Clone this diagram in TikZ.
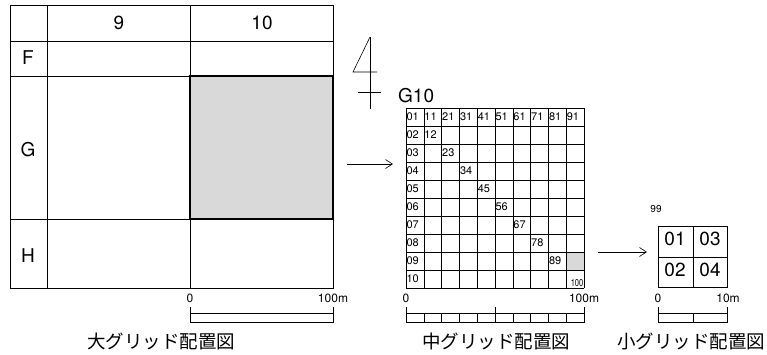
\documentclass[tikz,border=0pt]{standalone}
\usepackage{fontspec}
\setmainfont{TeX Gyre Heros}
\newfontfamily\jpfont{Noto Sans CJK JP}
\usepackage{tikz}
\usetikzlibrary{arrows.meta,positioning,calc}
\definecolor{cellgray}{gray}{0.85}
\tikzstyle{line} = [draw, line width=0.8pt]
\tikzstyle{thin} = [draw, line width=0.6pt]
\tikzstyle{big} = [font=\fontsize{19}{19}\selectfont, inner sep=0pt]
\tikzstyle{num} = [font=\fontsize{11}{11}\selectfont, inner sep=0.4pt, anchor=west]
\tikzstyle{unit} = [font=\fontsize{12}{12}\selectfont, inner sep=0pt]
\tikzstyle{title} = [font=\jpfont\fontsize{18.5}{18.5}\selectfont, inner sep=0pt]
\tikzset{>={Straight Barb[length=7pt,width=9pt]}}

\begin{document}
\begin{tikzpicture}[x=1pt,y=-1pt]
    \useasboundingbox (0,0) rectangle (767,354);

    % large grid
    \fill [cellgray] (190,76) rectangle (333,219);
    \draw [line] (10,5) rectangle (333,288);
    \foreach \x in {47,190} \draw [line] (\x,5) -- (\x,288);
    \foreach \y in {41,76,219} \draw [line] (10,\y) -- (333,\y);
    \draw [line width=1.3pt] (190,76) rectangle (333,219);
    \node [big] (col9) at (119,23) {9};
    \node [big] (col10) at (262,23) {10};
    \node [big] (rowF) at (28,58) {F};
    \node [big] (rowG) at (28,150) {G};
    \node [big] (rowH) at (28,256) {H};

    % scale of the large grid
    \draw [thin] (190,307) -- (190,323) (333,307) -- (333,323);
    \draw [thin] (190,313) -- (333,313) (190,322) -- (333,322);
    \node [unit] (l0) at (190,298) {0};
    \node [unit] (l100) at (333,298) {100m};
    \node [title] (ltitle) at (161,341) {大グリッド配置図};

    % north
    \draw [thin] (370,37) -- (370,109);
    \draw [thin] (370,37) -- (353,72) -- (377,72);
    \draw [thin] (358,92) -- (381,92);

    \coordinate (a1) at (347,164);
    \coordinate (b1) at (393,164);
    \draw [->, thin] (a1) -- (b1);

    % middle grid
    \node [big, anchor=west] (g10) at (398,96) {G10};
    \fill [cellgray] (566.2,252) rectangle (584,270);
    \foreach \i in {0,...,10} {
      \draw [thin] ({406+17.8*\i},108) -- ({406+17.8*\i},288);
      \draw [thin] (406,{108+18*\i}) -- (584,{108+18*\i});
    }
    \foreach \t [count=\c] in {01,11,21,31,41,51,61,71,81,91}
      \node [num] (top\c) at ({406+17.8*(\c-1)},116.5) {\t};
    \foreach \t [count=\r] in {02,03,04,05,06,07,08,09,10}
      \node [num] (left\r) at (406,{134.5+18*(\r-1)}) {\t};
    \foreach \t [count=\r] in {12,23,34,45,56,67,78,89}
      \node [num] (diag\r) at ({423.8+17.8*(\r-1)},{134.5+18*(\r-1)}) {\t};
    \node [font=\fontsize{10}{10}\selectfont, inner sep=0.8pt, anchor=south east, xscale=0.75] (last) at (584,288) {100};

    % scale of the middle grid
    \draw [thin] (406,307) -- (406,323) (495,307) -- (495,323) (584,307) -- (584,323);
    \foreach \i in {1,2,3,4,6,7,8,9} \draw [thin] ({406+17.8*\i},313) -- ({406+17.8*\i},323);
    \draw [thin] (406,313) -- (584,313) (406,322) -- (584,322);
    \node [unit] (m0) at (406,298) {0};
    \node [unit] (m100) at (584,298) {100m};
    \node [title] (mtitle) at (496,341) {中グリッド配置図};

    \coordinate (a2) at (598,252);
    \coordinate (b2) at (647,252);
    \draw [->, thin] (a2) -- (b2);

    % small grid
    \node [font=\fontsize{10}{10}\selectfont, inner sep=0pt] (s99) at (656,209) {99};
    \draw [line] (658,226) rectangle (727,287);
    \draw [line] (693,226) -- (693,287) (658,257) -- (727,257);
    \node [big] (s01) at (675,239) {01};
    \node [big] (s03) at (710,239) {03};
    \node [big] (s02) at (675,270) {02};
    \node [big] (s04) at (710,270) {04};

    % scale of the small grid
    \draw [thin] (658,307) -- (658,323) (727,307) -- (727,323);
    \draw [thin] (693,313) -- (693,322);
    \draw [thin] (658,313) -- (727,313) (658,322) -- (727,322);
    \node [unit] (s0) at (658,298) {0};
    \node [unit] (s10) at (728,298) {10m};
    \node [title] (stitle) at (691,341) {小グリッド配置図};
\end{tikzpicture}
\end{document}
